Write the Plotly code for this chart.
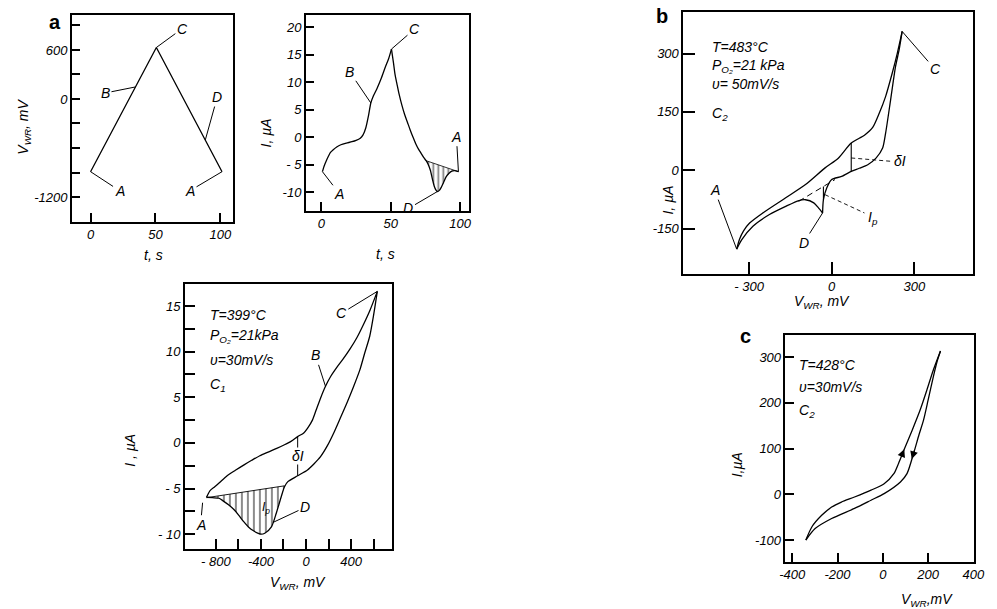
import numpy as np
import plotly.graph_objects as go

W, H = 997, 609
FONT = "Liberation Sans"

# ---------------- data ----------------
# panel a (left): potential ramp V_WR(t)
t_ramp = [0, 50.7, 101.3]
v_ramp = [-890, 630, -890]

# panel a (middle): current I(t)
t_cur = [0.7, 1.5, 2.5, 3.5, 5, 6.5, 8.5, 11, 14, 18, 22, 25, 28, 30, 32, 34, 35.6, 37.5, 40, 43,
         46, 48.5, 50.5, 52, 53, 54.5, 56, 58, 60, 62, 64, 66, 68, 70, 72, 74, 75.5, 77, 78.5, 80,
         81.3, 82.5, 83.7, 85, 86.5, 88, 90, 92, 94, 96, 98.8]
i_cur = [-6.3, -5.6, -4.9, -4.3, -3.5, -2.8, -2.3, -1.8, -1.4, -1.1, -0.85, -0.6, -0.2, 0.4, 1.7, 4.0, 6.2, 7.5, 8.8, 10.6,
         12.7, 14.3, 16.0, 13.4, 11.5, 9.6, 7.8, 5.8, 4.1, 2.7, 1.3, 0.0, -1.2, -2.2, -3.0, -3.8, -4.3, -5.0, -6.0, -7.6,
         -8.9, -9.6, -9.9, -9.7, -9.1, -8.3, -7.2, -6.6, -6.2, -6.1, -6.3]
t_base2 = [75.5, 98.8]
i_base2 = [-4.3, -6.3]

# panel a (bottom): voltammogram, C1, 399 C
v_fwd3 = [-883, -850, -810, -772, -700, -627, -550, -482, -410, -336, -260, -191, -130, -74, -20, 13, 57, 90,
          129, 173, 220, 275, 330, 391, 450, 507, 570, 633]
i_fwd3 = [-5.95, -5.2, -4.8, -4.4, -3.6, -3.0, -2.4, -1.9, -1.4, -1.0, -0.6, -0.2, 0.2, 0.69, 1.1, 1.6, 2.5, 3.6,
          4.9, 6.2, 7.3, 8.3, 9.2, 10.3, 11.5, 12.9, 14.6, 16.6]
v_rev3 = [633, 600, 565, 520, 478, 420, 362, 300, 245, 190, 129, 70, 13, -74, -161, -191, -220, -264, -307,
          -366, -400, -424, -470, -511, -555, -598, -640, -685, -730, -772, -830, -883]
i_rev3 = [16.6, 14.0, 11.66, 9.8, 8.0, 6.1, 4.35, 2.6, 1.06, -0.3, -1.5, -2.3, -2.96, -3.6, -4.24, -4.8, -5.9,
          -7.7, -9.2, -9.9, -10.0, -9.9, -9.6, -9.2, -8.6, -7.9, -7.3, -6.8, -6.4, -6.06, -6.0, -5.95]
v_base3 = [-191, -883]
i_base3 = [-4.7, -6.0]
v_dI3 = -74

# panel b: C2, 483 C
vb_fwd = [-345, -335, -320, -298, -250, -167, -95, -24, 24, 71, 119, 149, 173, 196, 220, 238, 256]
ib_fwd = [-203, -178, -156, -136, -110, -71, -37, 6, 31, 70, 90, 110, 147, 190, 250, 300, 357]
vb_revC = [256, 245, 232, 214, 196, 185, 161, 131, 100, 71, 36, 0, -18, -30, -33]
ib_revC = [357, 310, 267, 181, 96, 57, 31, 14, 5, -3, -16, -24, -46, -76, -110]
vb_revD = [-33, -48, -65, -95, -119, -167, -226, -286, -327, -345]
ib_revD = [-110, -97, -84, -76, -78, -93, -114, -144, -179, -203]
vb_base = [-120, 12]
ib_base = [-80, -24]
v_dIb = 71
v_Ipb = -30

# panel c: C2, 428 C
vc_up = [-340, -313, -270, -226, -183, -125, -52, 6, 49, 70, 93, 130, 165, 195, 223, 255]
ic_up = [-100, -71, -46, -28, -17, -6, 9, 23, 45, 68, 96, 140, 184, 228, 271, 313]
vc_lo = [-340, -299, -226, -125, -52, 6, 78, 107, 136, 160, 180, 200, 223, 240, 255]
ic_lo = [-100, -75, -53, -31, -13, 1.5, 27, 45, 89, 130, 162, 205, 256, 290, 313]

# tick labels
a1_yt = [-1200, -900, -600, -300, 0, 300, 600, 900]
a1_ytl = ["-1200", "", "", "", "0", "", "600", ""]
a1_xt = [0, 50, 100]
a2_yt = [-10, -5, 0, 5, 10, 15, 20]
a2_ytl = ["-10", "- 5", "0", "5", "10", "15", "20"]
a2_xt = [0, 50, 100]
a3_yt = [-10, -7.5, -5, -2.5, 0, 2.5, 5, 7.5, 10, 12.5, 15]
a3_ytl = ["- 10", "", "- 5", "", "0", "", "5", "", "10", "", "15"]
a3_xt = [-800, -600, -400, -200, 0, 200, 400, 600]
a3_xtl = ["- 800", "", "-400", "", "0", "", "400", ""]
b_yt = [-150, 0, 150, 300]
b_ytl = ["-150", "0", "150", "300"]
b_xt = [-300, 0, 300]
b_xtl = ["- 300", "0", "300"]
c_yt = [-100, 0, 100, 200, 300]
c_ytl = ["-100", "0", "100", "200", "300"]
c_xt = [-400, -200, 0, 200, 400]
c_xtl = ["-400", "-200", "0", "200", "400"]


# ---------------- helpers ----------------
def dom_x(a, b):
    return [a / W, b / W]


def dom_y(top, bottom):
    return [1 - bottom / H, 1 - top / H]


def axis(domain, rng, tv, tt, anchor, ticklen=7):
    return dict(domain=domain, range=rng, tickmode="array", tickvals=tv, ticktext=tt,
                ticks="inside", ticklen=ticklen, tickwidth=1.5, tickcolor="black",
                showline=True, linewidth=1.6, linecolor="black", mirror=True,
                showgrid=False, zeroline=False, anchor=anchor, fixedrange=True,
                tickfont=dict(family=FONT, size=13, color="black", style="italic"))


fig = go.Figure()


def curve(x, y, xa, ya, shape="spline", dash="solid", width=1.3):
    fig.add_trace(go.Scatter(x=list(x), y=list(y), mode="lines", xaxis=xa, yaxis=ya,
                             line=dict(color="black", width=width, shape=shape, smoothing=0.7, dash=dash),
                             showlegend=False, hoverinfo="skip"))


def hatch(px, py, xa, ya, size=5, solidity=0.3):
    fig.add_trace(go.Scatter(x=list(px), y=list(py), mode="lines", fill="toself", xaxis=xa, yaxis=ya,
                             line=dict(width=0, color="rgba(0,0,0,0)"),
                             fillcolor="rgba(0,0,0,0)",
                             fillpattern=dict(shape="|", size=size, solidity=solidity,
                                              fgcolor="black", bgcolor="rgba(0,0,0,0)"),
                             showlegend=False, hoverinfo="skip"))


# panel a1
curve(t_ramp, v_ramp, "x", "y", shape="linear")

# panel a2
k = int(np.argmax(i_cur))
curve(t_cur[:k + 1], i_cur[:k + 1], "x2", "y2")
curve(t_cur[k:], i_cur[k:], "x2", "y2")
tc = np.array(t_cur)
ic = np.array(i_cur)
m = (tc >= t_base2[0]) & (tc <= t_base2[1])
hx = list(tc[m]) + t_base2[::-1]
hy = list(ic[m]) + i_base2[::-1]
hatch(hx, hy, "x2", "y2", size=5, solidity=0.35)
curve(t_base2, i_base2, "x2", "y2", shape="linear", width=0.8)

# panel a3
curve(v_fwd3, i_fwd3, "x3", "y3")
curve(v_rev3, i_rev3, "x3", "y3")
vr = np.array(v_rev3)
ir = np.array(i_rev3)
m3 = vr <= v_base3[0]
hx3 = list(vr[m3]) + v_base3[::-1]
hy3 = list(ir[m3]) + i_base3[::-1]
hatch(hx3, hy3, "x3", "y3", size=6, solidity=0.3)
curve(v_base3, i_base3, "x3", "y3", shape="linear", width=0.9)
top3 = float(np.interp(v_dI3, v_fwd3, i_fwd3))
bot3 = float(np.interp(v_dI3, v_rev3[::-1], i_rev3[::-1]))
curve([v_dI3, v_dI3], [bot3, top3], "x3", "y3", shape="linear", width=1)

# panel b
curve(vb_fwd, ib_fwd, "x4", "y4")
curve(vb_revC, ib_revC, "x4", "y4")
curve(vb_revD, ib_revD, "x4", "y4")
curve(vb_base, ib_base, "x4", "y4", shape="linear", dash="6px,4px", width=1)
topb = float(np.interp(v_dIb, vb_fwd, ib_fwd))
botb = float(np.interp(v_dIb, vb_revC[::-1], ib_revC[::-1]))
curve([v_dIb, v_dIb], [botb, topb], "x4", "y4", shape="linear", width=1.1)
ipt = float(np.interp(v_Ipb, vb_base, ib_base))
ipb = float(np.interp(v_Ipb, vb_revC[::-1], ib_revC[::-1]))
curve([v_Ipb, v_Ipb], [ipb, ipt], "x4", "y4", shape="linear", width=1.1)
# dashed leaders
curve([v_dIb, 214], [(topb + botb) / 2 - 2, 23], "x4", "y4", shape="linear", dash="4px,3px", width=0.9)
curve([v_Ipb + 6, 119], [-63, -110], "x4", "y4", shape="linear", dash="4px,3px", width=0.9)

# panel c
curve(vc_up, ic_up, "x5", "y5")
curve(vc_lo, ic_lo, "x5", "y5")

# ---------------- layout ----------------
layout = dict(
    width=W, height=H, autosize=False,
    margin=dict(l=0, r=0, t=0, b=0),
    paper_bgcolor="white", plot_bgcolor="white",
    showlegend=False,
    xaxis=axis(dom_x(67, 231), [-14.4, 109.8], a1_xt, ["0", "50", "100"], "y", 9),
    yaxis=axis(dom_y(15, 222), [-1506, 1028], a1_yt, a1_ytl, "x", 8),
    xaxis2=axis(dom_x(305, 471), [-11.3, 106.4], a2_xt, ["0", "50", "100"], "y2", 9),
    yaxis2=axis(dom_y(15, 211), [-13.45, 22.2], a2_yt, a2_ytl, "x2", 8),
    xaxis3=axis(dom_x(182, 393), [-1075, 766], a3_xt, a3_xtl, "y3", 10),
    yaxis3=axis(dom_y(284, 549), [-11.62, 17.41], a3_yt, a3_ytl, "x3", 10),
    xaxis4=axis(dom_x(689, 984), [-539, 514], b_xt, b_xtl, "y4", 12),
    yaxis4=axis(dom_y(12, 274), [-267, 407], b_yt, b_ytl, "x4", 12),
    xaxis5=axis(dom_x(793, 985), [-430, 404], c_xt, c_xtl, "y5", 9),
    yaxis5=axis(dom_y(335, 562), [-148, 348], c_yt, c_ytl, "x5", 9),
)
fig.update_layout(**layout)

ann = []
TF = dict(family=FONT, size=14, color="black", style="italic")


def ptxt(xp, yp, s, size=14, angle=0, xanchor="center", bold=False, italic=True):
    ann.append(dict(x=xp / W, y=1 - yp / H, xref="paper", yref="paper", text=s, showarrow=False,
                    xanchor=xanchor, yanchor="middle", textangle=angle,
                    font=dict(family=FONT, size=size, color="black",
                              style="italic" if italic else "normal",
                              weight="bold" if bold else "normal")))


def lead(xa, ya, x, y, ax, ay, s, size=14):
    ann.append(dict(x=x, y=y, xref=xa, yref=ya, ax=ax, ay=ay, text=s, showarrow=True,
                    arrowhead=0, arrowwidth=1, arrowcolor="black", standoff=0,
                    font=dict(family=FONT, size=size, color="black", style="italic")))


# panel letters
ptxt(50, 22, "a", size=20, bold=True, italic=False)
ptxt(667, 16, "b", size=20, bold=True, italic=False)
ptxt(752, 336, "c", size=20, bold=True, italic=False)

# axis titles
ptxt(18, 127, "V<sub>WR</sub>, mV", angle=-90)
ptxt(150, 255, "t, s")
ptxt(265, 133, "I, µA", angle=-90)
ptxt(386, 254, "t, s")
ptxt(126, 450, "I , µA", angle=-90)
ptxt(297, 583, "V<sub>WR</sub>, mV")
ptxt(673, 200, "I, µA", angle=-90)
ptxt(830, 302, "V<sub>WR</sub>, mV")
ptxt(744, 465, "I,µA", angle=-90)
ptxt(937, 600, "V<sub>WR</sub>,mV")

# condition texts
ptxt(206, 315, "T=399°C", xanchor="left")
ptxt(206, 336, "P<sub>O₂</sub>=21kPa", xanchor="left")
ptxt(206, 360, "υ=30mV/s", xanchor="left")
ptxt(206, 385, "C<sub>1</sub>", xanchor="left")
ptxt(716, 47, "T=483°C", xanchor="left")
ptxt(716, 66, "P<sub>O₂</sub>=21 kPa", xanchor="left")
ptxt(716, 84, "υ= 50mV/s", xanchor="left")
ptxt(716, 114, "C<sub>2</sub>", xanchor="left")
ptxt(805, 365, "T=428°C", xanchor="left")
ptxt(805, 387, "υ=30mV/s", xanchor="left")
ptxt(805, 411, "C<sub>2</sub>", xanchor="left")

# panel a1 letters
lead("x", "y", t_ramp[0], v_ramp[0], 29, 19, "A")
tB = 34.6
lead("x", "y", tB, float(np.interp(tB, t_ramp, v_ramp)), -30, 6, "B")
lead("x", "y", t_ramp[1], v_ramp[1], 26, -19, "C")
tD = 88.4
lead("x", "y", tD, float(np.interp(tD, t_ramp, v_ramp)), 12, -43, "D")
lead("x", "y", t_ramp[2], v_ramp[2], -32, 19, "A")

# panel a2 letters
lead("x2", "y2", t_cur[0], i_cur[0], 17, 22, "A")
lead("x2", "y2", t_cur[16], i_cur[16], -21, -31, "B")
lead("x2", "y2", t_cur[k], i_cur[k], 23, -20, "C")
kd = int(np.argmin(i_cur))
lead("x2", "y2", t_cur[kd], i_cur[kd], -29, 17, "D")
lead("x2", "y2", t_cur[-1], i_cur[-1], -2, -35, "A")

# panel a3 letters
lead("x3", "y3", v_fwd3[0] - 35, i_fwd3[0] - 0.6, -2, 22, "A")
lead("x3", "y3", v_fwd3[19], i_fwd3[19], -10, -31, "B")
lead("x3", "y3", v_fwd3[-1], i_fwd3[-1], -36, 22, "C")
lead("x3", "y3", -293, float(np.interp(-293, v_rev3[::-1], i_rev3[::-1])), 32, -15, "D")
ann.append(dict(x=v_dI3, y=(top3 + bot3) / 2, xref="x3", yref="y3", text="δI", showarrow=False,
                bgcolor="white", borderpad=0, font=TF))
ann.append(dict(x=-351, y=-7.1, xref="x3", yref="y3", text="I<sub>p</sub>", showarrow=False,
                font=dict(family=FONT, size=12, color="black", style="italic")))

# panel b letters
lead("x4", "y4", vb_fwd[0], ib_fwd[0], -22, -59, "A")
lead("x4", "y4", vb_fwd[-1], ib_fwd[-1], 33, 38, "C")
lead("x4", "y4", vb_revC[-1], ib_revC[-1], -19, 30, "D")
ann.append(dict(x=218, y=23, xref="x4", yref="y4", text="δI", showarrow=False, xanchor="left", font=TF))
ann.append(dict(x=125, y=-122, xref="x4", yref="y4", text="I<sub>p</sub>", showarrow=False, xanchor="left", font=TF))

# panel c arrows
vh, vt = 95, 80
ann.append(dict(x=vh, y=float(np.interp(vh, vc_up, ic_up)), ax=vt, ay=float(np.interp(vt, vc_up, ic_up)),
                xref="x5", yref="y5", axref="x5", ayref="y5", text="", showarrow=True,
                arrowhead=2, arrowsize=1.3, arrowwidth=1.2, arrowcolor="black"))
vh2, vt2 = 128, 142
ann.append(dict(x=vh2, y=float(np.interp(vh2, vc_lo, ic_lo)), ax=vt2, ay=float(np.interp(vt2, vc_lo, ic_lo)),
                xref="x5", yref="y5", axref="x5", ayref="y5", text="", showarrow=True,
                arrowhead=2, arrowsize=1.3, arrowwidth=1.2, arrowcolor="black"))

fig.update_layout(annotations=ann)

fig.write_html("out.html", config={"displayModeBar": False},
               post_script="document.body.style.margin='0';document.body.style.overflow='hidden';")
